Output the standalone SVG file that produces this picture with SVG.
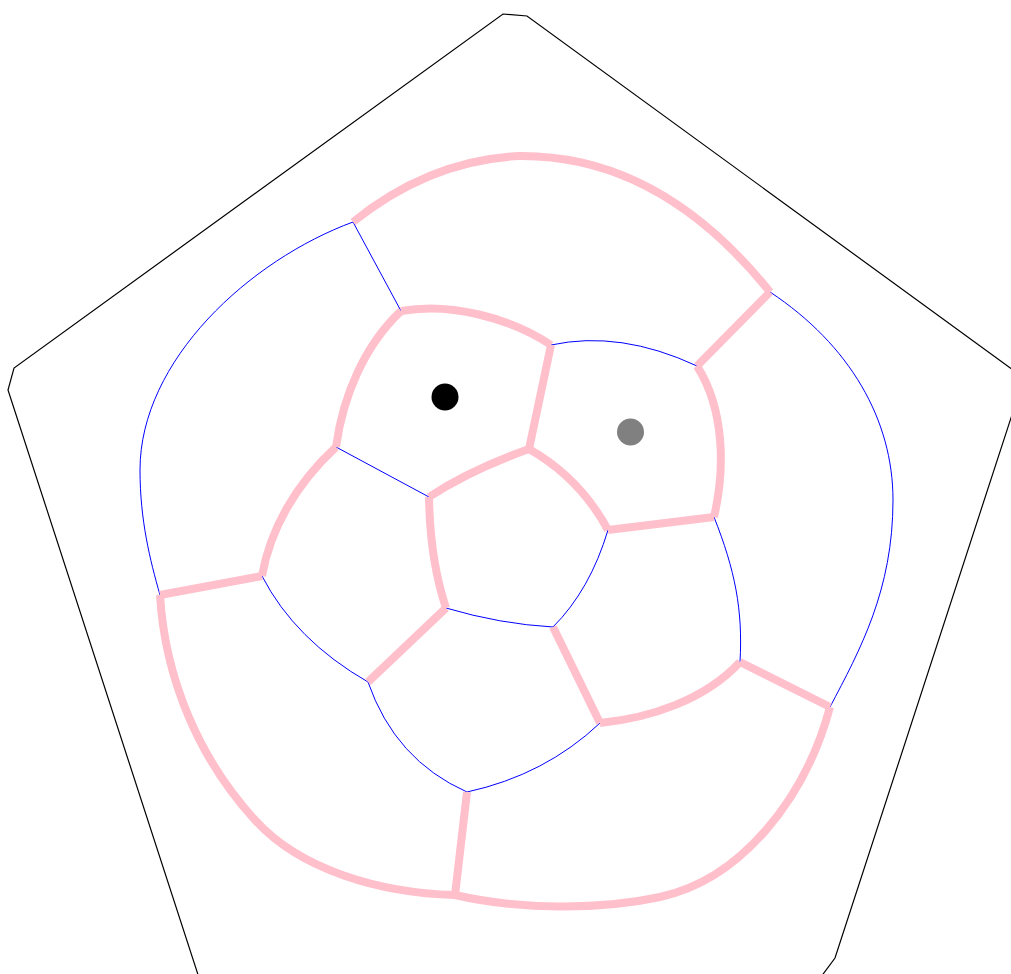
<svg xmlns="http://www.w3.org/2000/svg" width="1011" height="974" viewBox="0 0 1011 974">
<style>
.pk{fill:none;stroke:#FFC0CB;stroke-width:8;stroke-linejoin:miter;stroke-linecap:butt}
.bl{fill:none;stroke:#0000FF;stroke-width:1}
.ol{fill:none;stroke:#000;stroke-width:1.2}
</style>
<rect width="1011" height="974" fill="#fff"/>
<g id="outline">
<path class="ol" d="M203,990 L8,390 L14,368 L503,14 L527,16 L1024,378 L835,958 L815,985"/>
</g>
<g id="connectors">
<g id="blue-edges">
<path class="bl" d="M353,222 C250,260 140,360 140,470 C140,520 150,560 160,595"/>
<path class="bl" d="M770,292 C850,345 893,420 893,500 C893,590 860,650 830,707"/>
<path class="bl" d="M401,311 L353,222"/>
<path class="bl" d="M551,345 Q620,330 697,366"/>
<path class="bl" d="M336,447 L429,497"/>
<path class="bl" d="M608,530 Q590,590 553,627"/>
<path class="bl" d="M714,517 C735,570 743,610 740,662"/>
<path class="bl" d="M446,608 Q500,624 553,627"/>
<path class="bl" d="M600,723 Q545,775 467,792"/>
<path class="bl" d="M368,682 Q395,760 467,792"/>
<path class="bl" d="M262,576 Q295,640 368,682"/>
</g>
<g id="pink-edges">
<path class="pk" d="M353,222 Q430,160 520,156 Q660,155 770,292"/>
<path class="pk" d="M830,707 C805,800 740,880 660,897 C600,910 520,910 455,895"/>
<path class="pk" d="M455,895 C380,893 300,870 255,820 C200,760 165,680 160,595"/>
<path class="pk" d="M160,595 L262,576"/>
<path class="pk" d="M262,576 C270,530 295,485 336,447"/>
<path class="pk" d="M336,447 C343,395 365,345 401,311"/>
<path class="pk" d="M401,311 C450,302 510,318 551,345"/>
<path class="pk" d="M551,345 L529,449"/>
<path class="pk" d="M529,449 Q470,470 429,497"/>
<path class="pk" d="M529,449 Q580,478 608,530"/>
<path class="pk" d="M608,530 L714,517"/>
<path class="pk" d="M714,517 C725,470 725,410 697,366"/>
<path class="pk" d="M697,366 L770,292"/>
<path class="pk" d="M429,497 Q430,560 446,608"/>
<path class="pk" d="M446,608 L368,682"/>
<path class="pk" d="M553,627 L600,723"/>
<path class="pk" d="M600,723 C650,718 705,700 740,662"/>
<path class="pk" d="M740,662 L830,707"/>
<path class="pk" d="M467,792 L455,895"/>
</g>
</g>
<g id="node-black">
<circle cx="445" cy="397" r="13.5" fill="#000"/>
</g>
<g id="node-gray">
<circle cx="630.5" cy="432" r="13.5" fill="#808080"/>
</g>
</svg>
